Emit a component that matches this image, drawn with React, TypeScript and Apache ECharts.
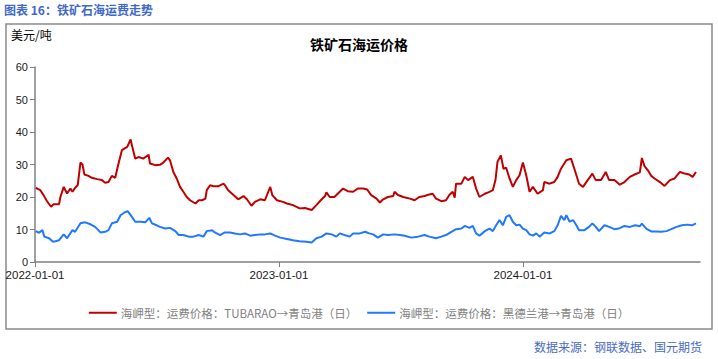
import React, { useEffect, useRef } from 'react';
import * as echarts from 'echarts';

const headerText = '图表 16：铁矿石海运费走势';
const chartTitle = '铁矿石海运价格';
const unitText = '美元/吨';
const sourceText = '数据来源：钢联数据、国元期货';

const redName = '海岬型：运费价格：TUBARAO→青岛港（日）';
const blueName = '海岬型：运费价格：黑德兰港→青岛港（日）';

const redDates = [
  '2022-01-02','2022-01-09','2022-01-14','2022-01-19','2022-01-25','2022-01-29','2022-02-06','2022-02-08','2022-02-13','2022-02-18',
  '2022-02-23','2022-02-26','2022-03-02','2022-03-06','2022-03-10','2022-03-13','2022-03-16','2022-03-22','2022-03-27','2022-04-04',
  '2022-04-11','2022-04-16','2022-04-21','2022-04-26','2022-05-01','2022-05-06','2022-05-11','2022-05-19','2022-05-24','2022-05-26',
  '2022-05-31','2022-06-05','2022-06-12','2022-06-20','2022-06-22','2022-06-30','2022-07-07','2022-07-12','2022-07-19','2022-07-22',
  '2022-07-27','2022-08-01','2022-08-06','2022-08-11','2022-08-16','2022-08-21','2022-08-29','2022-09-03','2022-09-08','2022-09-13',
  '2022-09-15','2022-09-20','2022-09-25','2022-10-02','2022-10-10','2022-10-13','2022-10-17','2022-10-25','2022-11-01','2022-11-09',
  '2022-11-14','2022-11-21','2022-11-26','2022-12-04','2022-12-11','2022-12-19','2022-12-22','2022-12-29','2023-01-07','2023-01-13',
  '2023-01-22','2023-02-01','2023-02-09','2023-02-19','2023-02-26','2023-03-06','2023-03-11','2023-03-13','2023-03-18','2023-03-25',
  '2023-04-02','2023-04-07','2023-04-14','2023-04-22','2023-04-29','2023-05-07','2023-05-13','2023-05-19','2023-05-27','2023-06-01',
  '2023-06-06','2023-06-13','2023-06-21','2023-06-23','2023-06-28','2023-07-06','2023-07-16','2023-07-23','2023-07-30','2023-08-07',
  '2023-08-14','2023-08-19','2023-08-24','2023-09-01','2023-09-08','2023-09-13','2023-09-18','2023-09-21','2023-09-23','2023-10-01',
  '2023-10-06','2023-10-11','2023-10-18','2023-10-23','2023-10-28','2023-11-05','2023-11-12','2023-11-17','2023-11-21','2023-11-24',
  '2023-11-29','2023-12-03','2023-12-07','2023-12-12','2023-12-17','2023-12-22','2023-12-27','2024-01-01','2024-01-06','2024-01-11',
  '2024-01-16','2024-01-23','2024-01-31','2024-02-02','2024-02-10','2024-02-17','2024-02-22','2024-02-27','2024-03-06','2024-03-13',
  '2024-03-18','2024-03-25','2024-03-31','2024-04-07','2024-04-14','2024-04-19','2024-04-27','2024-05-04','2024-05-09','2024-05-17',
  '2024-05-25','2024-06-01','2024-06-09','2024-06-17','2024-06-24','2024-06-27','2024-07-01','2024-07-06','2024-07-11','2024-07-16',
  '2024-07-24','2024-07-31','2024-08-08','2024-08-15','2024-08-23','2024-08-30','2024-09-06','2024-09-11','2024-09-16'
];
const redValues = [
  22.8,22.1,20.5,18.7,17.0,17.8,17.8,20.0,23.1,21.1,
  22.6,21.6,22.8,23.7,30.6,30.0,26.9,26.5,25.9,25.5,
  25.2,24.4,24.6,26.5,25.9,30.3,34.4,35.4,37.7,35.9,
  31.8,32.3,31.8,33.0,30.3,29.8,29.9,30.6,32.1,31.3,
  27.7,25.7,23.1,21.6,20.0,19.0,18.0,19.0,19.0,19.5,
  22.1,23.6,23.3,23.3,24.1,23.4,22.1,20.6,19.3,20.3,
  19.3,17.3,18.5,19.3,19.0,23.1,20.6,19.0,18.5,18.0,
  17.5,16.5,16.6,16.0,17.5,19.3,20.3,21.4,20.0,20.0,
  21.6,22.6,21.8,21.6,22.6,22.6,22.3,20.6,19.5,18.3,
  19.3,20.0,20.3,21.6,20.6,20.0,19.5,19.0,20.0,20.3,
  20.8,21.0,19.5,18.7,19.0,20.6,21.6,19.8,24.1,24.1,
  26.2,25.2,26.2,22.6,20.0,21.0,21.6,22.1,25.2,30.8,
  32.8,28.7,29.0,25.7,23.1,25.2,26.7,30.6,26.7,21.6,
  23.1,21.0,22.1,24.6,24.1,24.6,26.2,28.7,31.3,31.8,
  28.7,24.1,23.1,25.2,27.2,25.2,25.2,27.7,25.2,25.2,
  23.8,24.6,26.2,27.0,27.6,32.0,29.5,28.2,26.5,25.7,
  24.6,23.4,25.2,25.7,27.7,27.2,26.9,26.2,27.7
];

const blueDates = [
  '2022-01-02','2022-01-07','2022-01-12','2022-01-15','2022-01-22','2022-01-28','2022-02-06','2022-02-13','2022-02-18','2022-02-26',
  '2022-03-02','2022-03-10','2022-03-17','2022-03-25','2022-04-01','2022-04-09','2022-04-16','2022-04-21','2022-04-26','2022-05-04',
  '2022-05-09','2022-05-16','2022-05-20','2022-05-26','2022-05-31','2022-06-08','2022-06-15','2022-06-21','2022-06-25','2022-07-02',
  '2022-07-07','2022-07-15','2022-07-22','2022-07-30','2022-08-04','2022-08-11','2022-08-19','2022-08-26','2022-09-03','2022-09-10',
  '2022-09-15','2022-09-23','2022-09-27','2022-10-05','2022-10-12','2022-10-20','2022-10-27','2022-11-04','2022-11-11','2022-11-19',
  '2022-11-26','2022-12-04','2022-12-11','2022-12-19','2022-12-26','2023-01-03','2023-01-13','2023-01-22','2023-02-01','2023-02-11',
  '2023-02-19','2023-02-26','2023-03-06','2023-03-13','2023-03-21','2023-03-28','2023-04-02','2023-04-09','2023-04-17','2023-04-22',
  '2023-05-02','2023-05-10','2023-05-16','2023-05-22','2023-05-29','2023-06-06','2023-06-13','2023-06-23','2023-07-01','2023-07-08',
  '2023-07-18','2023-07-28','2023-08-07','2023-08-14','2023-08-24','2023-09-01','2023-09-08','2023-09-16','2023-09-23','2023-10-01',
  '2023-10-06','2023-10-13','2023-10-18','2023-10-23','2023-10-28','2023-11-05','2023-11-12','2023-11-17','2023-11-22','2023-11-27',
  '2023-12-02','2023-12-07','2023-12-12','2023-12-17','2023-12-22','2023-12-27','2024-01-01','2024-01-06','2024-01-11','2024-01-16',
  '2024-01-21','2024-01-26','2024-02-02','2024-02-10','2024-02-17','2024-02-22','2024-02-27','2024-03-03','2024-03-06','2024-03-11',
  '2024-03-16','2024-03-21','2024-03-25','2024-04-02','2024-04-09','2024-04-14','2024-04-19','2024-04-24','2024-05-02','2024-05-09',
  '2024-05-17','2024-05-25','2024-06-01','2024-06-09','2024-06-17','2024-06-24','2024-06-27','2024-07-04','2024-07-11','2024-07-19',
  '2024-07-26','2024-08-03','2024-08-10','2024-08-18','2024-08-26','2024-09-03','2024-09-10','2024-09-16'
];
const blueValues = [
  9.5,9.0,9.8,7.8,7.3,6.2,6.7,8.5,7.3,9.8,
  9.3,11.9,12.2,11.6,10.8,9.1,9.3,9.8,11.9,12.4,
  14.4,15.4,15.6,13.9,12.4,12.4,12.2,13.6,11.9,11.3,
  10.8,10.3,10.5,9.5,8.3,8.3,7.8,7.8,8.3,7.8,
  9.5,9.8,9.1,8.3,9.1,9.1,8.8,8.5,8.8,8.1,
  8.3,8.5,8.5,8.8,8.1,7.5,7.1,6.7,6.4,6.2,
  6.0,7.3,7.8,8.8,8.5,7.8,8.8,8.3,7.8,8.8,
  8.8,9.3,8.8,8.5,7.5,8.5,8.3,8.5,8.3,8.1,
  7.5,7.8,8.3,7.8,7.3,7.8,8.3,9.3,10.1,10.3,
  11.1,10.5,11.1,8.8,8.1,9.5,10.3,9.5,11.3,12.9,
  11.3,13.9,14.4,12.4,11.3,11.5,10.3,9.8,8.5,8.1,
  8.8,7.8,9.1,8.8,9.5,11.3,14.2,12.9,14.4,12.4,
  12.9,11.3,9.8,9.8,10.8,11.9,10.8,9.5,11.3,10.8,
  10.1,10.4,11.1,10.8,11.3,11.0,11.8,10.2,9.4,9.4,
  9.3,9.5,10.1,10.8,11.3,11.5,11.3,11.9
];

const xTickLabels = ['2022-01-01', '2023-01-01', '2024-01-01'];
const xAxisStart = '2022-01-01';
const xAxisEnd = '2024-09-22';
const yMin = 0;
const yMax = 60;
const yStep = 10;

const DAY = 86400000;
const utc = (s: string) => {
  const [y, m, d] = s.split('-').map(Number);
  return Date.UTC(y, m - 1, d);
};
const origin = utc(xAxisStart);
const toDay = (s: string) => Math.round((utc(s) - origin) / DAY);
const pad = (n: number) => (n < 10 ? '0' + n : '' + n);
const dayToLabel = (v: number) => {
  const d = new Date(origin + Math.round(v) * DAY);
  return `${d.getUTCFullYear()}-${pad(d.getUTCMonth() + 1)}-${pad(d.getUTCDate())}`;
};

export default function App() {
  const ref = useRef<HTMLDivElement>(null);

  useEffect(() => {
    document.body.style.margin = '0';
    if (!ref.current) return;
    const chart = echarts.init(ref.current, undefined, { renderer: 'svg' });
    const cjk = '"Noto Sans CJK SC", "Liberation Sans", sans-serif';
    const latin = '"Liberation Sans", Arial, sans-serif';
    const tickValues = xTickLabels.map(toDay);

    chart.setOption({
      animation: false,
      backgroundColor: '#ffffff',
      title: {
        text: chartTitle,
        left: 'center',
        top: 32,
        textStyle: { fontSize: 14, fontWeight: 'bold', color: '#000000', fontFamily: cjk },
      },
      legend: {
        top: 302,
        left: 'center',
        itemWidth: 28,
        itemHeight: 2,
        itemGap: 10,
        icon: 'rect',
        textStyle: { color: '#7f7f7f', fontSize: 11.5, fontFamily: cjk, padding: [0, 0, 0, -1] },
        data: [redName, blueName],
      },
      grid: { left: 35, right: 18, top: 67, bottom: 97 },
      xAxis: {
        type: 'value',
        min: 0,
        max: toDay(xAxisEnd),
        axisLine: { show: true, lineStyle: { color: '#808080', width: 1.5 } },
        axisTick: { show: true, length: 5, customValues: tickValues, lineStyle: { color: '#808080' } },
        axisLabel: {
          customValues: tickValues,
          formatter: (v: number) => dayToLabel(v),
          color: '#1a1a1a',
          fontSize: 11.5,
          fontFamily: latin,
          margin: 7,
          hideOverlap: false,
        },
        splitLine: { show: false },
      },
      yAxis: {
        type: 'value',
        min: yMin,
        max: yMax,
        interval: yStep,
        axisLine: { show: true, lineStyle: { color: '#808080', width: 1.5 } },
        axisTick: { show: true, length: 5, lineStyle: { color: '#808080' } },
        axisLabel: { color: '#1a1a1a', fontSize: 11, fontFamily: latin, margin: 7 },
        splitLine: { show: false },
      },
      series: [
        {
          name: redName,
          type: 'line',
          symbol: 'none',
          color: '#c00000',
          lineStyle: { color: '#c00000', width: 2 },
          data: redDates.map((d, i) => [toDay(d), redValues[i]]),
        },
        {
          name: blueName,
          type: 'line',
          symbol: 'none',
          color: '#1f78ff',
          lineStyle: { color: '#1f78ff', width: 2 },
          data: blueDates.map((d, i) => [toDay(d), blueValues[i]]),
        },
      ],
      graphic: [
        {
          type: 'rect',
          shape: { x: 6, y: 24, width: 706, height: 305 },
          style: { fill: 'none', stroke: '#8a8a8a', lineWidth: 1.5 },
          silent: true,
        },
        {
          type: 'text',
          x: 4,
          y: 9,
          style: {
            text: headerText,
            fill: '#4169c8',
            font: `bold 12px ${cjk}`,
            textVerticalAlign: 'middle',
          },
        },
        {
          type: 'text',
          x: 11,
          y: 34,
          style: {
            text: unitText,
            fill: '#000000',
            font: `12px ${cjk}`,
            textVerticalAlign: 'middle',
          },
        },
        {
          type: 'text',
          x: 702,
          y: 346,
          style: {
            text: sourceText,
            fill: '#4a6bc4',
            font: `12px ${cjk}`,
            textAlign: 'right',
            textVerticalAlign: 'middle',
          },
        },
      ],
    });

    return () => chart.dispose();
  }, []);

  return <div ref={ref} style={{ width: 718, height: 359 }} />;
}
